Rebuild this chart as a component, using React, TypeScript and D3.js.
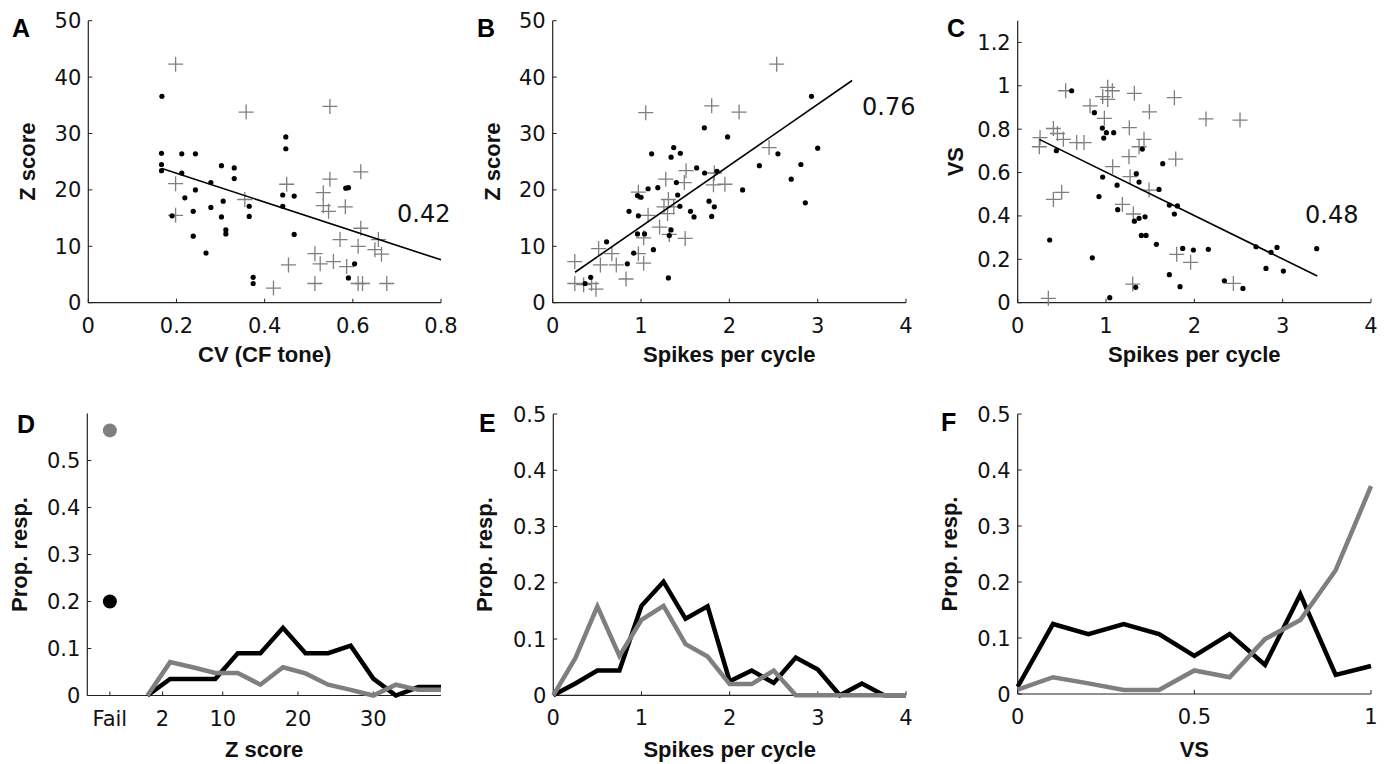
import React from 'react';
import * as d3 from 'd3';

const W = 1389;
const H = 764;
const NUM_FONT = '"DejaVu Sans", "Liberation Sans", sans-serif';
const LBL_FONT = '"Liberation Sans", Arial, sans-serif';
const GRAY = '#7f7f7f';

type P = [number, number];

// ---------- Panel A: CV (CF tone) vs Z score ----------
const aBlack: P[] = [
  [0.167, 36.6], [0.166, 26.5], [0.166, 24.5], [0.166, 23.4], [0.212, 26.4], [0.243, 26.4],
  [0.212, 23.0], [0.219, 18.6], [0.19, 15.4], [0.243, 20.0], [0.238, 16.2], [0.238, 11.8],
  [0.267, 8.8], [0.278, 16.9], [0.278, 21.3], [0.302, 24.3], [0.331, 23.9], [0.331, 22.0],
  [0.306, 18.0], [0.302, 15.2], [0.312, 12.9], [0.312, 12.2], [0.365, 17.1], [0.365, 15.3],
  [0.374, 4.5], [0.374, 3.4], [0.448, 29.4], [0.448, 27.3], [0.441, 19.1], [0.441, 17.1],
  [0.467, 18.9], [0.467, 12.1], [0.584, 20.3], [0.59, 20.4], [0.604, 6.9], [0.59, 4.4],
];
const aGray: P[] = [
  [0.198, 42.3], [0.198, 21.1], [0.198, 15.5], [0.358, 33.8], [0.355, 18.3], [0.548, 34.8],
  [0.45, 21.0], [0.454, 6.7], [0.42, 2.6], [0.618, 23.2], [0.548, 21.9], [0.533, 19.5],
  [0.533, 17.2], [0.545, 16.2], [0.583, 17.0], [0.618, 13.2], [0.571, 11.2], [0.612, 10.0],
  [0.658, 11.2], [0.665, 8.6], [0.65, 9.4], [0.514, 8.7], [0.526, 6.9], [0.556, 7.3],
  [0.586, 6.4], [0.514, 3.4], [0.612, 3.4], [0.622, 3.4], [0.677, 3.4],
];
const aFit: P[] = [[0.167, 23.8], [0.8, 7.6]];
const aR = '0.42';

// ---------- Panel B: spikes per cycle vs Z score ----------
const bBlack: P[] = [
  [2.93, 36.6], [1.717, 31.0], [1.98, 29.4], [3.0, 27.4], [1.37, 27.5], [1.34, 25.8],
  [1.445, 26.5], [1.12, 26.4], [2.55, 26.4], [2.34, 24.3], [2.81, 24.5], [1.63, 23.9],
  [1.72, 23.0], [1.86, 23.3], [2.7, 21.9], [1.4, 21.3], [1.19, 20.4], [1.08, 20.2],
  [2.15, 20.0], [1.415, 19.1], [0.96, 19.0], [1.0, 18.7], [1.77, 18.0], [2.86, 17.7],
  [1.44, 17.1], [1.83, 17.0], [0.864, 16.2], [1.56, 16.2], [1.6, 15.2], [1.8, 15.3],
  [0.97, 15.4], [1.34, 12.9], [0.96, 12.2], [1.04, 12.2], [1.32, 11.9], [1.14, 9.4],
  [0.61, 10.8], [0.917, 8.8], [0.845, 6.9], [0.43, 4.5], [0.366, 3.4], [1.31, 4.4],
];
const bGray: P[] = [
  [2.536, 42.3], [1.053, 33.7], [1.8, 34.9], [2.11, 33.8], [2.45, 27.5], [1.51, 23.4],
  [1.28, 21.9], [1.49, 21.3], [1.83, 23.0], [1.82, 20.9], [1.95, 21.0], [0.97, 19.6],
  [1.31, 18.3], [1.26, 17.0], [1.37, 17.0], [1.3, 15.8], [1.08, 15.5], [1.21, 13.4],
  [1.32, 12.1], [1.5, 11.4], [1.03, 11.5], [0.97, 8.7], [1.03, 7.0], [0.52, 9.6],
  [0.67, 8.7], [0.54, 6.7], [0.72, 6.7], [0.83, 4.2], [0.25, 7.3], [0.25, 3.4],
  [0.35, 3.2], [0.44, 3.4], [0.49, 2.4],
];
const bFit: P[] = [[0.253, 5.4], [3.39, 39.4]];
const bR = '0.76';

// ---------- Panel C: spikes per cycle vs VS ----------
const cBlack: P[] = [
  [0.611, 0.977], [0.868, 0.876], [0.958, 0.805], [1.004, 0.784], [1.087, 0.784], [0.974, 0.759],
  [1.411, 0.708], [0.438, 0.701], [1.642, 0.641], [0.962, 0.579], [1.343, 0.595], [1.374, 0.556],
  [1.125, 0.542], [1.6, 0.522], [0.92, 0.489], [1.717, 0.45], [1.808, 0.446], [1.774, 0.409],
  [1.132, 0.429], [1.321, 0.376], [1.374, 0.389], [1.442, 0.396], [1.4, 0.31], [1.453, 0.31],
  [1.57, 0.269], [0.362, 0.289], [0.845, 0.207], [1.868, 0.25], [1.989, 0.243], [2.158, 0.246],
  [2.698, 0.258], [2.868, 0.232], [2.936, 0.255], [3.385, 0.249], [2.811, 0.158], [3.008, 0.146],
  [1.717, 0.129], [2.34, 0.101], [2.55, 0.066], [1.838, 0.074], [1.336, 0.071], [1.042, 0.023],
];
const cGray: P[] = [
  [0.543, 0.977], [0.819, 0.907], [1.019, 0.993], [1.072, 0.977], [0.962, 0.95], [1.019, 0.937],
  [0.981, 0.85], [1.321, 0.965], [1.774, 0.945], [1.491, 0.88], [2.132, 0.847], [2.517, 0.842],
  [1.264, 0.807], [0.404, 0.803], [0.45, 0.78], [0.517, 0.753], [0.253, 0.761], [0.245, 0.719],
  [0.668, 0.738], [0.751, 0.738], [1.43, 0.753], [1.374, 0.719], [1.26, 0.673], [1.789, 0.662],
  [1.075, 0.627], [1.272, 0.581], [1.487, 0.519], [0.404, 0.476], [0.498, 0.509], [1.185, 0.453],
  [1.309, 0.409], [1.8, 0.223], [1.958, 0.186], [1.302, 0.086], [2.442, 0.089], [0.347, 0.02],
];
const cFit: P[] = [[0.245, 0.753], [3.392, 0.123]];
const cR = '0.48';

// ---------- Panel D: Z score distribution ----------
const dBins = [0, 3, 6, 9, 12, 15, 18, 21, 24, 27, 30, 33, 36, 39];
const dBlack = [0, 0.035, 0.035, 0.035, 0.09, 0.09, 0.144, 0.09, 0.09, 0.106, 0.036, 0, 0.018, 0.018];
const dGray = [0, 0.071, 0.06, 0.048, 0.048, 0.023, 0.06, 0.047, 0.023, 0.012, 0, 0.023, 0.012, 0.012];
const dFailPos = -5;
const dFailBlack = 0.2;
const dFailGray = 0.564;
const dTickVals = [-5, 2, 10, 20, 30];
const dTickLabels = ['Fail', '2', '10', '20', '30'];

// ---------- Panel E: spikes per cycle distribution ----------
const eBins = [0, 0.25, 0.5, 0.75, 1, 1.25, 1.5, 1.75, 2, 2.25, 2.5, 2.75, 3, 3.25, 3.5, 3.75, 4];
const eBlack = [0, 0.021, 0.044, 0.044, 0.159, 0.202, 0.136, 0.158, 0.025, 0.044, 0.022, 0.067, 0.046, 0, 0.021, 0, 0];
const eGray = [0, 0.066, 0.158, 0.07, 0.134, 0.159, 0.091, 0.069, 0.02, 0.02, 0.044, 0, 0, 0, 0, 0, 0];

// ---------- Panel F: VS distribution ----------
const fBins = [0, 0.1, 0.2, 0.3, 0.4, 0.5, 0.6, 0.7, 0.8, 0.9, 1.0];
const fBlack = [0.013, 0.125, 0.107, 0.125, 0.107, 0.068, 0.107, 0.052, 0.178, 0.034, 0.05];
const fGray = [0.008, 0.03, 0.019, 0.007, 0.007, 0.042, 0.03, 0.098, 0.132, 0.221, 0.371];

type Sc = d3.ScaleLinear<number, number>;

interface AxesProps {
  x: Sc;
  y: Sc;
  xTicks: number[];
  xTickLabels: string[];
  yTicks: number[];
  yTickLabels: string[];
  xLabel: string;
  yLabel: string;
  letter: string;
  letterPos: [number, number];
  yLabelX: number;
  xLabelY: number;
}

function Axes(p: AxesProps) {
  const [x0, x1] = p.x.range();
  const [y0, y1] = p.y.range();
  const tl = 4;
  return (
    <g>
      <line x1={x0} y1={y0} x2={x1} y2={y0} stroke="#222" strokeWidth={1.2} />
      <line x1={x0} y1={y0} x2={x0} y2={y1} stroke="#222" strokeWidth={1.2} />
      {p.xTicks.map((t, i) => (
        <g key={'xt' + i}>
          <line x1={p.x(t)} x2={p.x(t)} y1={y0} y2={y0 - tl} stroke="#222" strokeWidth={1} />
          <text x={p.x(t)} y={y0 + 30} textAnchor="middle" fontFamily={NUM_FONT} fontSize={21} fill="#111">
            {p.xTickLabels[i]}
          </text>
        </g>
      ))}
      {p.yTicks.map((t, i) => (
        <g key={'yt' + i}>
          <line x1={x0} x2={x0 + tl} y1={p.y(t)} y2={p.y(t)} stroke="#222" strokeWidth={1} />
          <text x={x0 - 7} y={p.y(t) + 7.5} textAnchor="end" fontFamily={NUM_FONT} fontSize={21} fill="#111">
            {p.yTickLabels[i]}
          </text>
        </g>
      ))}
      <text x={(x0 + x1) / 2} y={p.xLabelY} textAnchor="middle" fontFamily={LBL_FONT} fontWeight="bold" fontSize={22} fill="#111">
        {p.xLabel}
      </text>
      <text
        transform={`translate(${p.yLabelX},${(y0 + y1) / 2}) rotate(-90)`}
        textAnchor="middle"
        fontFamily={LBL_FONT}
        fontWeight="bold"
        fontSize={22}
        fill="#111"
      >
        {p.yLabel}
      </text>
      <text x={p.letterPos[0]} y={p.letterPos[1]} fontFamily={LBL_FONT} fontWeight="bold" fontSize={25} fill="#000">
        {p.letter}
      </text>
    </g>
  );
}

function Scatter({ x, y, black, gray, fit, r, rPos }: { x: Sc; y: Sc; black: P[]; gray: P[]; fit: P[]; r: string; rPos: [number, number] }) {
  const line = d3.line<P>().x((d) => x(d[0])).y((d) => y(d[1]));
  const cs = 7.5;
  return (
    <g>
      {gray.map((d, i) => (
        <path
          key={'g' + i}
          d={`M${x(d[0]) - cs},${y(d[1])}h${2 * cs}M${x(d[0])},${y(d[1]) - cs}v${2 * cs}`}
          stroke={GRAY}
          strokeWidth={1.3}
          fill="none"
        />
      ))}
      {black.map((d, i) => (
        <circle key={'b' + i} cx={x(d[0])} cy={y(d[1])} r={2.6} fill="#000" />
      ))}
      <path d={line(fit) || ''} stroke="#000" strokeWidth={1.6} fill="none" />
      <text x={rPos[0]} y={rPos[1]} fontFamily={NUM_FONT} fontSize={24} fill="#111">
        {r}
      </text>
    </g>
  );
}

function Dist({ x, y, bins, black, gray }: { x: Sc; y: Sc; bins: number[]; black: number[]; gray: number[] }) {
  const line = d3
    .line<number>()
    .x((_, i) => x(bins[i]))
    .y((d) => y(d));
  return (
    <g>
      <path d={line(black) || ''} stroke="#000" strokeWidth={4.5} fill="none" strokeLinejoin="miter" />
      <path d={line(gray) || ''} stroke={GRAY} strokeWidth={4.5} fill="none" strokeLinejoin="miter" />
    </g>
  );
}

export default function App() {
  const topY = d3.scaleLinear().domain([0, 50]).range([302.7, 20.7]);
  const ax = d3.scaleLinear().domain([0, 0.8]).range([88.3, 441]);
  const bx = d3.scaleLinear().domain([0, 4]).range([552.7, 906]);
  const cx = d3.scaleLinear().domain([0, 4]).range([1017.7, 1371]);
  const cy = d3.scaleLinear().domain([0, 1.3]).range([302.7, 20.7]);

  const dx = d3.scaleLinear().domain([-8, 39]).range([87.3, 441]);
  const dy = d3.scaleLinear().domain([0, 0.6]).range([695.5, 413.5]);
  const ex = d3.scaleLinear().domain([0, 4]).range([553.3, 906]);
  const ey = d3.scaleLinear().domain([0, 0.5]).range([695.3, 414]);
  const fx = d3.scaleLinear().domain([0, 1]).range([1017.7, 1371]);
  const fy = d3.scaleLinear().domain([0, 0.5]).range([694, 414]);

  const zTicks = [0, 10, 20, 30, 40, 50];
  const zLabels = zTicks.map(String);
  const propTicks = [0, 0.1, 0.2, 0.3, 0.4, 0.5];
  const propLabels = ['0', '0.1', '0.2', '0.3', '0.4', '0.5'];

  return (
    <svg width={W} height={H} style={{ position: 'absolute', left: 0, top: 0, background: '#fff' }}>
      <rect x={0} y={0} width={W} height={H} fill="#fff" />
      {/* A */}
      <Axes
        x={ax} y={topY}
        xTicks={[0, 0.2, 0.4, 0.6, 0.8]} xTickLabels={['0', '0.2', '0.4', '0.6', '0.8']}
        yTicks={zTicks} yTickLabels={zLabels}
        xLabel="CV (CF tone)" yLabel="Z score" letter="A" letterPos={[12, 37]} yLabelX={35} xLabelY={362}
      />
      <Scatter x={ax} y={topY} black={aBlack} gray={aGray} fit={aFit} r={aR} rPos={[397, 222]} />
      {/* B */}
      <Axes
        x={bx} y={topY}
        xTicks={[0, 1, 2, 3, 4]} xTickLabels={['0', '1', '2', '3', '4']}
        yTicks={zTicks} yTickLabels={zLabels}
        xLabel="Spikes per cycle" yLabel="Z score" letter="B" letterPos={[477, 37]} yLabelX={500} xLabelY={362}
      />
      <Scatter x={bx} y={topY} black={bBlack} gray={bGray} fit={bFit} r={bR} rPos={[862, 115]} />
      {/* C */}
      <Axes
        x={cx} y={cy}
        xTicks={[0, 1, 2, 3, 4]} xTickLabels={['0', '1', '2', '3', '4']}
        yTicks={[0, 0.2, 0.4, 0.6, 0.8, 1, 1.2]} yTickLabels={['0', '0.2', '0.4', '0.6', '0.8', '1', '1.2']}
        xLabel="Spikes per cycle" yLabel="VS" letter="C" letterPos={[947, 37]} yLabelX={963} xLabelY={362}
      />
      <Scatter x={cx} y={cy} black={cBlack} gray={cGray} fit={cFit} r={cR} rPos={[1305, 223]} />
      {/* D */}
      <Axes
        x={dx} y={dy}
        xTicks={dTickVals} xTickLabels={dTickLabels}
        yTicks={propTicks} yTickLabels={propLabels}
        xLabel="Z score" yLabel="Prop. resp." letter="D" letterPos={[17, 433]} yLabelX={27} xLabelY={757}
      />
      <Dist x={dx} y={dy} bins={dBins} black={dBlack} gray={dGray} />
      <circle cx={dx(dFailPos)} cy={dy(dFailGray)} r={7} fill={GRAY} />
      <circle cx={dx(dFailPos)} cy={dy(dFailBlack)} r={7} fill="#000" />
      {/* E */}
      <Axes
        x={ex} y={ey}
        xTicks={[0, 1, 2, 3, 4]} xTickLabels={['0', '1', '2', '3', '4']}
        yTicks={propTicks} yTickLabels={propLabels}
        xLabel="Spikes per cycle" yLabel="Prop. resp." letter="E" letterPos={[479, 432]} yLabelX={492} xLabelY={757}
      />
      <Dist x={ex} y={ey} bins={eBins} black={eBlack} gray={eGray} />
      {/* F */}
      <Axes
        x={fx} y={fy}
        xTicks={[0, 0.5, 1]} xTickLabels={['0', '0.5', '1']}
        yTicks={propTicks} yTickLabels={propLabels}
        xLabel="VS" yLabel="Prop. resp." letter="F" letterPos={[941, 431]} yLabelX={957} xLabelY={757}
      />
      <Dist x={fx} y={fy} bins={fBins} black={fBlack} gray={fGray} />
    </svg>
  );
}
